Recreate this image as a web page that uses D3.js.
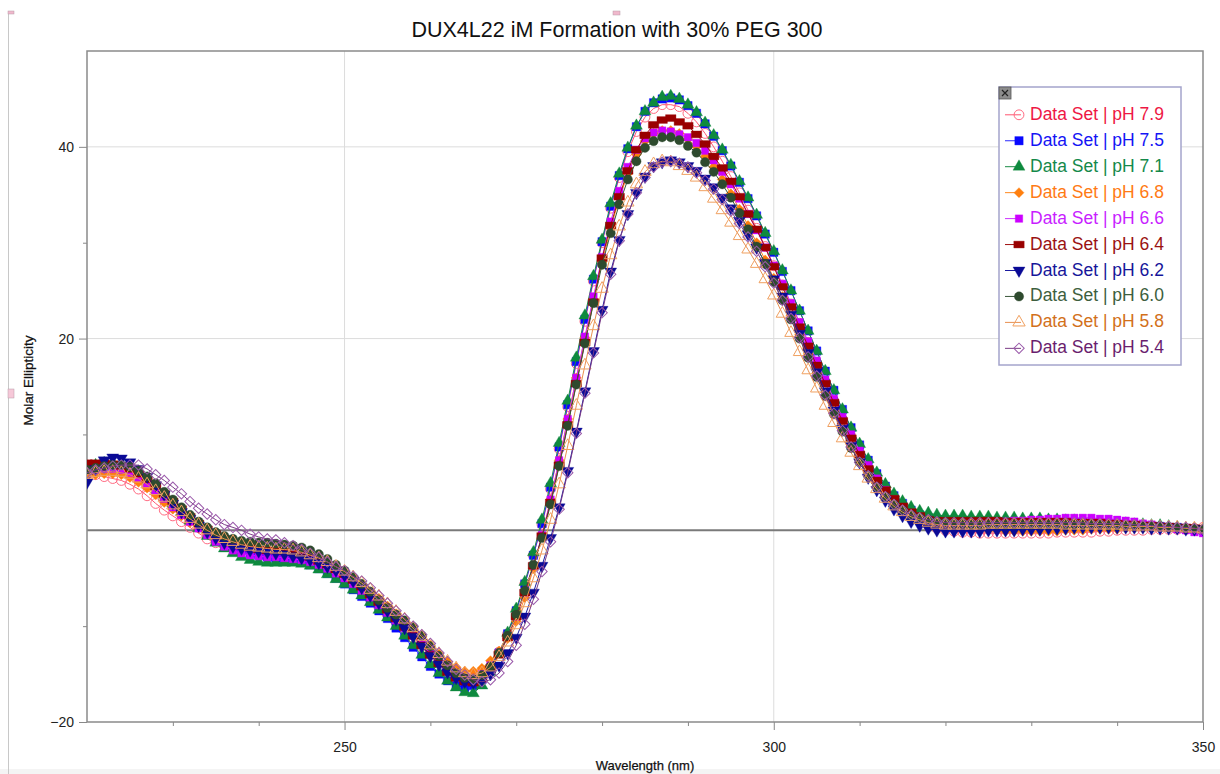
<!DOCTYPE html>
<html>
<head>
<meta charset="utf-8">
<script src="https://cdn.jsdelivr.net/npm/d3@7"></script>
<style>
  body { margin: 0; background: #fff; }
  svg { display: block; font-family: "Liberation Sans", Arial, Helvetica, sans-serif; }
</style>
</head>
<body>
<svg id="chart" width="1220" height="774"></svg>
<script>
// wavelength grid (nm), one reading per nm
var wavelengths = d3.range(220, 351);

var seriesNames = ["Data Set | pH 7.9", "Data Set | pH 7.5", "Data Set | pH 7.1", "Data Set | pH 6.8",
                   "Data Set | pH 6.6", "Data Set | pH 6.4", "Data Set | pH 6.2", "Data Set | pH 6.0",
                   "Data Set | pH 5.8", "Data Set | pH 5.4"];

var ph79 = [6.0, 5.8, 5.6, 5.4, 5.2, 4.8, 4.3, 3.6, 2.8, 2.1,
  1.5, 0.9, 0.3, -0.3, -0.9, -1.3, -1.6, -1.8, -1.9, -2.0,
  -2.1, -2.1, -2.2, -2.3, -2.4, -2.6, -2.9, -3.3, -3.8, -4.4,
  -5.0, -5.7, -6.4, -7.2, -8.0, -8.8, -9.6, -10.4, -11.2, -12.1,
  -13.0, -13.9, -14.7, -15.3, -15.6, -15.6, -15.2, -14.2, -12.7, -10.8,
  -8.4, -5.6, -2.6, 0.6, 4.3, 8.5, 12.9, 17.4, 21.8, 26.0,
  30.0, 33.6, 36.8, 39.5, 41.6, 43.1, 44.0, 44.4, 44.4, 44.2,
  43.5, 42.6, 41.4, 40.0, 38.5, 36.9, 35.2, 33.4, 31.5, 29.6,
  27.6, 25.6, 23.6, 21.6, 19.6, 17.5, 15.5, 13.5, 11.6, 9.8,
  8.1, 6.5, 5.1, 3.9, 2.9, 2.1, 1.4, 0.9, 0.5, 0.2,
  0.0, -0.1, -0.2, -0.2, -0.3, -0.3, -0.3, -0.3, -0.3, -0.3,
  -0.3, -0.3, -0.3, -0.2, -0.2, -0.2, -0.2, -0.2, -0.1, -0.1,
  0.0, 0.0, 0.0, 0.0, 0.1, 0.1, 0.1, 0.1, 0.1, 0.2,
  0.3];

var ph75 = [6.5, 6.6, 6.7, 6.7, 6.6, 6.3, 5.8, 5.1, 4.3, 3.5,
  2.6, 1.8, 1.1, 0.4, -0.3, -0.9, -1.4, -1.8, -2.1, -2.4,
  -2.6, -2.8, -2.9, -3.0, -3.1, -3.3, -3.6, -4.0, -4.5, -5.0,
  -5.6, -6.2, -6.9, -7.6, -8.4, -9.2, -10.2, -11.2, -12.2, -13.2,
  -14.2, -15.0, -15.7, -16.2, -16.4, -16.2, -15.6, -14.4, -12.8, -10.8,
  -8.4, -5.6, -2.6, 0.7, 4.5, 8.7, 13.1, 17.6, 22.0, 26.2,
  30.1, 33.8, 37.0, 39.8, 42.1, 43.7, 44.6, 45.0, 45.1, 44.9,
  44.3, 43.5, 42.4, 41.1, 39.6, 38.0, 36.3, 34.6, 32.8, 30.9,
  29.0, 27.0, 25.0, 22.9, 20.8, 18.7, 16.6, 14.6, 12.6, 10.7,
  8.9, 7.3, 5.9, 4.6, 3.6, 2.8, 2.1, 1.6, 1.2, 1.0,
  0.9, 0.8, 0.8, 0.8, 0.8, 0.8, 0.8, 0.8, 0.8, 0.8,
  0.8, 0.8, 0.8, 0.8, 0.8, 0.8, 0.8, 0.7, 0.7, 0.7,
  0.6, 0.6, 0.5, 0.5, 0.4, 0.4, 0.3, 0.3, 0.2, 0.1,
  0.0];

var ph71 = [6.6, 6.8, 7.0, 7.0, 6.9, 6.6, 6.1, 5.4, 4.6, 3.7,
  2.8, 1.9, 1.0, 0.2, -0.6, -1.3, -1.9, -2.4, -2.8, -3.1,
  -3.3, -3.4, -3.4, -3.4, -3.4, -3.5, -3.7, -4.1, -4.6, -5.1,
  -5.6, -6.2, -6.8, -7.5, -8.3, -9.1, -10.0, -11.0, -12.0, -13.0,
  -14.0, -14.9, -15.7, -16.4, -16.9, -17.0, -16.2, -14.8, -12.9, -10.7,
  -8.2, -5.4, -2.3, 1.1, 4.9, 9.1, 13.5, 18.0, 22.4, 26.5,
  30.3, 34.1, 37.2, 39.9, 42.2, 43.7, 44.6, 45.2, 45.3, 45.0,
  44.4, 43.6, 42.5, 41.2, 39.7, 38.1, 36.4, 34.7, 32.9, 31.0,
  29.1, 27.1, 25.0, 22.9, 20.8, 18.7, 16.6, 14.6, 12.6, 10.7,
  9.0, 7.4, 6.0, 4.8, 3.8, 3.0, 2.4, 2.0, 1.8, 1.6,
  1.5, 1.5, 1.5, 1.4, 1.4, 1.4, 1.3, 1.3, 1.3, 1.2,
  1.2, 1.2, 1.1, 1.1, 1.0, 1.0, 0.9, 0.9, 0.8, 0.8,
  0.7, 0.7, 0.6, 0.6, 0.5, 0.5, 0.4, 0.3, 0.2, 0.1,
  0.0];

var ph68 = [5.7, 5.8, 5.9, 5.9, 5.8, 5.5, 5.0, 4.4, 3.7, 2.9,
  2.2, 1.5, 0.8, 0.2, -0.4, -0.9, -1.3, -1.6, -1.8, -2.0,
  -2.1, -2.2, -2.2, -2.3, -2.4, -2.5, -2.8, -3.1, -3.5, -4.0,
  -4.5, -5.1, -5.7, -6.4, -7.1, -7.9, -8.7, -9.5, -10.3, -11.1,
  -12.0, -12.9, -13.7, -14.3, -14.7, -14.7, -14.4, -13.6, -12.6, -11.3,
  -9.5, -7.0, -4.0, -0.6, 3.2, 7.3, 11.6, 15.9, 20.1, 24.1,
  28.0, 31.5, 34.6, 37.2, 39.2, 40.6, 41.4, 41.7, 41.7, 41.4,
  40.8, 40.0, 39.0, 37.9, 36.6, 35.1, 33.5, 31.8, 30.0, 28.2,
  26.3, 24.4, 22.4, 20.4, 18.4, 16.4, 14.4, 12.5, 10.6, 8.9,
  7.3, 5.9, 4.6, 3.6, 2.7, 2.0, 1.5, 1.1, 0.8, 0.6,
  0.4, 0.3, 0.2, 0.1, 0.1, 0.0, 0.0, -0.1, -0.1, -0.1,
  -0.1, -0.1, -0.1, -0.1, 0.0, 0.0, 0.0, 0.1, 0.1, 0.1,
  0.1, 0.2, 0.2, 0.2, 0.2, 0.2, 0.2, 0.2, 0.1, 0.1,
  0.1];

var ph66 = [6.2, 6.3, 6.4, 6.4, 6.3, 6.0, 5.5, 4.9, 4.1, 3.3,
  2.4, 1.6, 0.9, 0.2, -0.5, -1.2, -1.7, -2.1, -2.4, -2.6,
  -2.7, -2.8, -2.8, -2.9, -3.0, -3.1, -3.3, -3.6, -4.0, -4.5,
  -5.0, -5.6, -6.3, -7.0, -7.8, -8.6, -9.4, -10.2, -11.0, -11.9,
  -12.8, -13.7, -14.5, -15.1, -15.4, -15.4, -15.0, -14.1, -12.8, -11.1,
  -9.0, -6.5, -3.7, -0.5, 3.2, 7.3, 11.6, 15.9, 20.2, 24.4,
  28.5, 32.2, 35.4, 37.9, 39.7, 40.9, 41.5, 41.7, 41.6, 41.3,
  41.0, 40.4, 39.6, 38.6, 37.4, 36.1, 34.6, 33.0, 31.3, 29.5,
  27.6, 25.7, 23.7, 21.7, 19.7, 17.7, 15.7, 13.7, 11.8, 10.0,
  8.3, 6.8, 5.4, 4.2, 3.2, 2.4, 1.8, 1.4, 1.1, 0.9,
  0.8, 0.8, 0.8, 0.8, 0.8, 0.8, 0.9, 0.9, 1.0, 1.0,
  1.1, 1.1, 1.2, 1.2, 1.3, 1.3, 1.3, 1.3, 1.2, 1.2,
  1.1, 1.0, 0.9, 0.7, 0.6, 0.4, 0.3, 0.1, 0.0, -0.2,
  -0.3];

var ph64 = [7.0, 7.0, 7.0, 6.9, 6.7, 6.4, 5.9, 5.3, 4.6, 3.8,
  3.0, 2.2, 1.4, 0.7, 0.1, -0.4, -0.9, -1.3, -1.6, -1.8,
  -2.0, -2.1, -2.1, -2.2, -2.3, -2.5, -2.8, -3.2, -3.6, -4.1,
  -4.6, -5.2, -5.9, -6.7, -7.5, -8.3, -9.2, -10.1, -11.0, -12.0,
  -13.0, -13.9, -14.8, -15.4, -15.8, -15.9, -15.5, -14.5, -13.0, -11.2,
  -9.0, -6.5, -3.7, -0.6, 2.9, 6.8, 11.0, 15.3, 19.6, 23.8,
  28.4, 31.8, 34.8, 37.5, 39.7, 41.2, 42.3, 42.8, 43.0, 42.6,
  42.2, 41.3, 40.3, 39.0, 37.8, 36.4, 34.8, 33.0, 31.4, 29.5,
  27.5, 25.4, 23.3, 21.2, 19.2, 17.2, 15.3, 13.3, 11.4, 9.6,
  7.9, 6.4, 5.2, 4.2, 3.3, 2.5, 1.9, 1.5, 1.1, 1.0,
  1.0, 1.0, 1.0, 1.0, 1.0, 1.0, 1.0, 0.9, 0.9, 0.9,
  0.9, 0.9, 0.9, 0.9, 0.9, 0.8, 0.8, 0.8, 0.8, 0.7,
  0.7, 0.6, 0.6, 0.5, 0.5, 0.4, 0.4, 0.3, 0.3, 0.2,
  0.2];

var ph62 = [5.0, 6.4, 7.3, 7.6, 7.5, 7.1, 6.4, 5.6, 4.7, 3.7,
  2.8, 1.9, 1.2, 0.5, -0.2, -0.8, -1.3, -1.7, -1.9, -2.1,
  -2.2, -2.3, -2.4, -2.5, -2.7, -2.9, -3.1, -3.4, -3.8, -4.2,
  -4.7, -5.3, -6.0, -6.8, -7.6, -8.4, -9.3, -10.2, -11.1, -12.1,
  -13.1, -14.0, -14.8, -15.4, -15.8, -15.9, -15.6, -15.0, -14.1, -12.8,
  -11.2, -9.0, -6.5, -3.7, -0.8, 2.4, 6.2, 10.3, 14.5, 18.7,
  23.0, 27.0, 30.3, 33.0, 35.2, 36.9, 38.0, 38.4, 38.6, 38.4,
  38.0, 37.5, 36.7, 35.8, 34.7, 33.6, 32.3, 30.9, 29.5, 27.9,
  26.2, 24.4, 22.5, 20.5, 18.5, 16.5, 14.5, 12.5, 10.6, 8.8,
  7.1, 5.5, 4.2, 3.1, 2.2, 1.5, 0.9, 0.5, 0.2, 0.0,
  -0.1, -0.1, -0.1, -0.1, -0.1, 0.0, 0.0, 0.0, 0.0, 0.1,
  0.1, 0.1, 0.2, 0.2, 0.2, 0.3, 0.3, 0.3, 0.3, 0.3,
  0.3, 0.3, 0.3, 0.3, 0.2, 0.2, 0.2, 0.2, 0.1, 0.1,
  0.1];

var ph60 = [6.3, 6.5, 6.7, 6.8, 6.8, 6.6, 6.2, 5.6, 4.9, 4.0,
  3.2, 2.4, 1.6, 0.9, 0.3, -0.2, -0.6, -0.9, -1.1, -1.2,
  -1.3, -1.3, -1.4, -1.5, -1.6, -1.8, -2.1, -2.5, -3.0, -3.6,
  -4.2, -4.9, -5.6, -6.4, -7.3, -8.1, -8.8, -9.4, -10.1, -11.0,
  -12.1, -13.1, -14.1, -14.9, -15.4, -15.5, -15.1, -14.2, -12.8, -11.0,
  -8.8, -6.3, -3.6, -0.8, 2.7, 6.7, 10.9, 15.2, 19.5, 23.7,
  27.7, 31.0, 34.0, 36.6, 38.5, 39.9, 40.6, 41.0, 41.0, 40.7,
  40.1, 39.4, 38.4, 37.4, 36.1, 34.7, 33.1, 31.4, 29.6, 27.8,
  25.9, 24.0, 22.0, 20.0, 18.0, 16.0, 14.0, 12.1, 10.3, 8.6,
  7.1, 5.7, 4.5, 3.5, 2.7, 2.1, 1.6, 1.3, 1.1, 0.9,
  0.8, 0.7, 0.7, 0.6, 0.6, 0.6, 0.6, 0.6, 0.6, 0.6,
  0.6, 0.6, 0.6, 0.6, 0.6, 0.6, 0.6, 0.6, 0.6, 0.5,
  0.5, 0.5, 0.5, 0.4, 0.4, 0.4, 0.3, 0.3, 0.2, 0.2,
  0.1];

var ph58 = [5.8, 6.0, 6.1, 6.1, 6.0, 5.8, 5.4, 4.8, 4.1, 3.4,
  2.6, 1.9, 1.2, 0.6, 0.0, -0.5, -0.9, -1.2, -1.5, -1.7,
  -1.8, -1.9, -2.0, -2.0, -2.1, -2.3, -2.6, -2.9, -3.3, -3.8,
  -4.3, -4.9, -5.5, -6.2, -6.9, -7.7, -8.5, -9.3, -10.2, -11.1,
  -12.0, -12.9, -13.7, -14.4, -14.9, -15.1, -14.9, -14.3, -13.2, -11.7,
  -9.9, -7.6, -5.0, -2.1, 1.1, 4.8, 8.8, 13.0, 17.2, 21.3,
  25.2, 28.7, 31.7, 34.2, 36.1, 37.4, 38.2, 38.5, 38.4, 38.0,
  37.5, 36.8, 35.8, 34.6, 33.4, 32.1, 30.7, 29.3, 27.8, 26.2,
  24.5, 22.6, 20.6, 18.6, 16.7, 14.8, 13.0, 11.2, 9.6, 8.1,
  6.7, 5.4, 4.3, 3.3, 2.5, 1.9, 1.4, 1.1, 0.8, 0.6,
  0.5, 0.5, 0.5, 0.5, 0.5, 0.6, 0.6, 0.6, 0.6, 0.6,
  0.6, 0.6, 0.6, 0.6, 0.5, 0.5, 0.5, 0.5, 0.5, 0.5,
  0.5, 0.4, 0.4, 0.4, 0.4, 0.3, 0.3, 0.3, 0.2, 0.2,
  0.1];

var ph54 = [6.0, 6.3, 6.5, 6.7, 6.8, 6.8, 6.8, 6.4, 5.8, 5.2,
  4.5, 3.8, 3.0, 2.3, 1.7, 1.1, 0.6, 0.3, 0.0, -0.4,
  -0.7, -0.9, -1.0, -1.3, -1.6, -2.0, -2.4, -2.8, -3.3, -3.8,
  -4.2, -4.8, -5.3, -6.0, -6.8, -7.6, -8.4, -9.2, -10.0, -10.9,
  -11.8, -12.8, -13.7, -14.5, -15.1, -15.6, -15.8, -15.6, -14.9, -13.7,
  -12.0, -9.8, -7.2, -4.3, -1.2, 2.2, 6.0, 10.1, 14.3, 18.5,
  22.7, 26.7, 30.2, 33.0, 35.2, 36.8, 37.9, 38.4, 38.5, 38.3,
  37.9, 37.3, 36.5, 35.6, 34.5, 33.3, 32.0, 30.6, 29.1, 27.5,
  25.8, 24.0, 22.1, 20.1, 18.1, 16.1, 14.1, 12.2, 10.4, 8.7,
  7.1, 5.7, 4.5, 3.5, 2.7, 2.1, 1.6, 1.3, 1.1, 0.9,
  0.8, 0.8, 0.8, 0.8, 0.8, 0.8, 0.8, 0.8, 0.8, 0.8,
  0.8, 0.8, 0.8, 0.8, 0.8, 0.8, 0.8, 0.7, 0.7, 0.7,
  0.7, 0.6, 0.6, 0.5, 0.5, 0.4, 0.4, 0.3, 0.3, 0.2,
  0.1];

var seriesValues = [ph79, ph75, ph71, ph68, ph66, ph64, ph62, ph60, ph58, ph54];

var xMajorTicks = [250, 300, 350];
var xMinorTicks = [230, 240, 260, 270, 280, 290, 310, 320, 330, 340];
var yMajorTicks = [40, 20, -20];
var yMinorTicks = [30, 10, -10];

// styles
var textColors   = ["#ee1744", "#1414f5", "#14894a", "#ff7a14", "#c81eff", "#9a1212", "#16169a", "#3d5e3d", "#d2701a", "#6a1e6e"];
var lineColors   = ["#ff5470", "#2a2aff", "#1a8c46", "#ff8a20", "#cc33ff", "#a01010", "#1a1aa0", "#3a583a", "#e89050", "#7a3a86"];
var markerColors = ["#ff6a82", "#0808ff", "#0e8a3e", "#ff7f0e", "#cc00ff", "#990000", "#0a0a96", "#2e4a2e", "#f0a060", "#9a5aaa"];
var markerKinds  = ["openCircle", "square", "triangle", "diamond", "smallSquare", "wideRect", "triangleDown", "circle", "openTriangle", "openDiamond"];

var svg = d3.select("#chart");
var margin = {top: 51, right: 1203, bottom: 722, left: 87};

var x = d3.scaleLinear().domain([220, 350]).range([margin.left, margin.right]);
var y = d3.scaleLinear().domain([-20, 50]).range([margin.bottom, margin.top]);

// page decorations
svg.append("rect").attr("x", 0).attr("y", 769).attr("width", 1220).attr("height", 5).style("fill", "#f4f4f4");
svg.append("line").attr("x1", 8.5).attr("x2", 8.5).attr("y1", 13).attr("y2", 774)
    .style("stroke", "#c8c8c8").style("stroke-width", 1);
svg.append("rect").attr("x", 8).attr("y", 11).attr("width", 6).attr("height", 3).style("fill", "#f0b8cc").style("stroke", "#b89aa8").style("stroke-width", 0.5);
svg.append("rect").attr("x", 613).attr("y", 11).attr("width", 7).attr("height", 4).style("fill", "#f0b8cc").style("stroke", "#b89aa8").style("stroke-width", 0.5);
svg.append("rect").attr("x", 8).attr("y", 389).attr("width", 6).attr("height", 9).style("fill", "#f6c8d8").style("stroke", "#b89aa8").style("stroke-width", 0.5);

// title
svg.append("text")
    .attr("x", 617).attr("y", 37)
    .attr("text-anchor", "middle")
    .style("font-size", "21.5px").style("fill", "#111")
    .text("DUX4L22 iM Formation with 30% PEG 300");

// grid
svg.append("g").selectAll("line").data([250, 300]).enter().append("line")
    .attr("x1", d => x(d)).attr("x2", d => x(d))
    .attr("y1", margin.top).attr("y2", margin.bottom)
    .style("stroke", "#dcdcdc").style("stroke-width", 1);
svg.append("g").selectAll("line").data([40, 20]).enter().append("line")
    .attr("x1", margin.left).attr("x2", margin.right)
    .attr("y1", d => y(d)).attr("y2", d => y(d))
    .style("stroke", "#dcdcdc").style("stroke-width", 1);

// zero line
svg.append("line")
    .attr("x1", margin.left).attr("x2", margin.right)
    .attr("y1", y(0)).attr("y2", y(0))
    .style("stroke", "#7a7a7a").style("stroke-width", 2);

// axes
var xAxisMajor = svg.append("g")
    .attr("transform", "translate(0," + margin.bottom + ")")
    .call(d3.axisBottom(x).tickValues(xMajorTicks).tickSize(8).tickPadding(12).tickFormat(d3.format("d")));
var xAxisMinor = svg.append("g")
    .attr("transform", "translate(0," + margin.bottom + ")")
    .call(d3.axisBottom(x).tickValues(xMinorTicks).tickSize(4).tickFormat(""));
var yAxisMajor = svg.append("g")
    .attr("transform", "translate(" + margin.left + ",0)")
    .call(d3.axisLeft(y).tickValues(yMajorTicks).tickSize(8).tickPadding(5).tickFormat(d3.format("d")));
var yAxisMinor = svg.append("g")
    .attr("transform", "translate(" + margin.left + ",0)")
    .call(d3.axisLeft(y).tickValues(yMinorTicks).tickSize(4).tickFormat(""));

[xAxisMajor, xAxisMinor, yAxisMajor, yAxisMinor].forEach(function(g) {
  g.select(".domain").remove();
  g.selectAll(".tick line").style("stroke", "#888").style("stroke-width", 1);
  g.selectAll(".tick text").style("font-size", "14px").style("fill", "#222")
    .style("font-family", "Liberation Sans, Arial, sans-serif");
});

// plot frame
svg.append("rect")
    .attr("x", margin.left).attr("y", margin.top)
    .attr("width", margin.right - margin.left).attr("height", margin.bottom - margin.top)
    .style("fill", "none").style("stroke", "#8a8a8a").style("stroke-width", 1.5);

// axis titles
svg.append("text")
    .attr("transform", "translate(33," + ((margin.top + margin.bottom) / 2 - 6) + ") rotate(-90)")
    .attr("text-anchor", "middle")
    .style("font-size", "13.5px").style("fill", "#111")
    .style("stroke", "#111").style("stroke-width", 0.25)
    .text("Molar Ellipticity");

svg.append("text")
    .attr("x", (margin.left + margin.right) / 2).attr("y", 770)
    .attr("text-anchor", "middle")
    .style("font-size", "13px").style("fill", "#111")
    .style("stroke", "#111").style("stroke-width", 0.25)
    .text("Wavelength (nm)");

// clip for plotted data
svg.append("clipPath").attr("id", "plotClip")
  .append("rect")
    .attr("x", margin.left).attr("y", margin.top)
    .attr("width", margin.right - margin.left).attr("height", margin.bottom - margin.top);

// marker shapes
function markerPath(kind) {
  switch (kind) {
    case "openCircle":   return d3.symbol(d3.symbolCircle, 76)();
    case "circle":       return d3.symbol(d3.symbolCircle, 68)();
    case "square":       return d3.symbol(d3.symbolSquare, 70)();
    case "smallSquare":  return d3.symbol(d3.symbolSquare, 56)();
    case "triangle":
    case "triangleDown": return d3.symbol(d3.symbolTriangle, 62)();
    case "openTriangle": return d3.symbol(d3.symbolTriangle, 66)();
    case "diamond":      return d3.symbol(d3.symbolSquare, 50)();
    case "openDiamond":  return d3.symbol(d3.symbolSquare, 54)();
    case "wideRect":     return "M-5.2,-3.4L5.2,-3.4L5.2,3.4L-5.2,3.4Z";
  }
}
function markerRotation(kind) {
  if (kind === "triangleDown") return 180;
  if (kind === "diamond" || kind === "openDiamond") return 45;
  return 0;
}
function isOpen(kind) {
  return kind === "openCircle" || kind === "openTriangle" || kind === "openDiamond";
}
function styleMarker(sel, i) {
  var kind = markerKinds[i];
  if (isOpen(kind)) {
    sel.style("fill", "none").style("stroke", markerColors[i]).style("stroke-width", 1);
  } else {
    sel.style("fill", markerColors[i]).style("stroke", markerColors[i]).style("stroke-width", 0.6)
       .style("stroke-opacity", 0.6);
  }
}

var line = d3.line()
    .x(function(d) { return x(d.x); })
    .y(function(d) { return y(d.y); });

var plot = svg.append("g").attr("clip-path", "url(#plotClip)");

seriesValues.forEach(function(vals, i) {
  var pts = wavelengths.map(function(w, j) { return {x: w, y: vals[j]}; });
  var g = plot.append("g").attr("class", "series");

  g.append("path")
    .datum(pts)
    .attr("d", line)
    .style("fill", "none")
    .style("stroke", lineColors[i])
    .style("stroke-width", 1);

  var path = markerPath(markerKinds[i]), rot = markerRotation(markerKinds[i]);
  g.selectAll("path.mk")
    .data(pts)
    .enter()
    .append("path")
    .attr("class", "mk")
    .attr("d", path)
    .attr("transform", function(d) {
      return "translate(" + x(d.x) + "," + y(d.y) + ")" + (rot ? " rotate(" + rot + ")" : "");
    })
    .call(styleMarker, i);
});

// legend
var legendBox = {x: 999, y: 87, w: 182, h: 278, row: 25.95, first: 113.3};

svg.append("rect")
    .attr("x", legendBox.x).attr("y", legendBox.y)
    .attr("width", legendBox.w).attr("height", legendBox.h)
    .style("fill", "#fff").style("stroke", "#a4a4cc").style("stroke-width", 1.5);

svg.append("rect")
    .attr("x", legendBox.x).attr("y", legendBox.y)
    .attr("width", 12).attr("height", 12)
    .style("fill", "#8c8c8c").style("stroke", "#555").style("stroke-width", 0.8);
svg.append("path")
    .attr("d", "M" + (legendBox.x + 3) + "," + (legendBox.y + 3) + "L" + (legendBox.x + 9) + "," + (legendBox.y + 9) +
               "M" + (legendBox.x + 9) + "," + (legendBox.y + 3) + "L" + (legendBox.x + 3) + "," + (legendBox.y + 9))
    .style("stroke", "#222").style("stroke-width", 1.2);

var legend = svg.selectAll(".legend")
    .data(seriesNames)
    .enter()
    .append("g")
    .attr("class", "legend")
    .attr("transform", function(d, i) {
      return "translate(" + legendBox.x + "," + (legendBox.first + i * legendBox.row) + ")";
    });

legend.append("line")
    .attr("x1", 6).attr("x2", 22).attr("y1", 1.5).attr("y2", 1.5)
    .style("stroke", function(d, i) { return lineColors[i]; })
    .style("stroke-width", 1);

legend.append("path")
    .attr("d", function(d, i) { return markerPath(markerKinds[i]); })
    .attr("transform", function(d, i) {
      var r = markerRotation(markerKinds[i]);
      return "translate(20,1.5)" + (r ? " rotate(" + r + ")" : "");
    })
    .each(function(d, i) { styleMarker(d3.select(this), i); });

legend.append("text")
    .attr("x", 31).attr("y", 6.5)
    .style("font-size", "17.5px")
    .style("fill", function(d, i) { return textColors[i]; })
    .text(function(d) { return d; });
</script>
</body>
</html>
